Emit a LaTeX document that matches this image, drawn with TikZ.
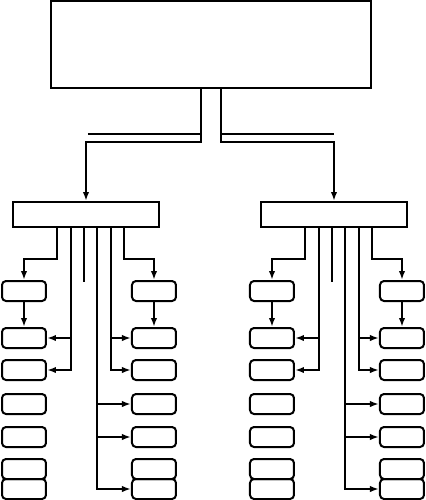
\documentclass[tikz,border=0pt]{standalone}
\usetikzlibrary{arrows.meta}
\tikzset{
    leaf/.style={draw,rounded corners=2pt,minimum width=22pt,minimum height=10pt,inner sep=0pt},
    unit/.style={draw,minimum width=73pt,minimum height=12.5pt,inner sep=0pt}
}
\newcommand\leaf[3]{\node(#1)[leaf] at (#2,#3){};}

\begin{document}
\begin{tikzpicture}[x=0.5pt,y=-0.5pt,line width=1pt,>={Latex[length=4.5pt,width=3.2pt]}]
    \useasboundingbox (0,0) rectangle (426,500);
    \node(top)[draw,minimum width=160pt,minimum height=43.5pt,inner sep=0pt] at (211,44.5){};
    \node(midA)[unit] at (86,214.5){};
    \node(midB)[unit] at (334,214.5){};
    % leaves, group a
    \leaf{al1}{24}{291} \leaf{al2}{24}{338} \leaf{al3}{24}{370} \leaf{al4}{24}{404}
    \leaf{al5}{24}{437} \leaf{al6}{24}{469} \leaf{al7}{24}{489}
    \leaf{ar1}{154}{291} \leaf{ar2}{154}{338} \leaf{ar3}{154}{370} \leaf{ar4}{154}{404}
    \leaf{ar5}{154}{437} \leaf{ar6}{154}{469} \leaf{ar7}{154}{489}
    % leaves, group b
    \leaf{bl1}{272}{291} \leaf{bl2}{272}{338} \leaf{bl3}{272}{370} \leaf{bl4}{272}{404}
    \leaf{bl5}{272}{437} \leaf{bl6}{272}{469} \leaf{bl7}{272}{489}
    \leaf{br1}{402}{291} \leaf{br2}{402}{338} \leaf{br3}{402}{370} \leaf{br4}{402}{404}
    \leaf{br5}{402}{437} \leaf{br6}{402}{469} \leaf{br7}{402}{489}

    % top split
    \coordinate (ja) at (201,142); \coordinate (jb) at (221,142);
    \coordinate (ua) at (88,134);  \coordinate (ub) at (334,134);
    \draw[->] (top.south -| ja) -- (ja) -| (midA);
    \draw (ua) -- (ua -| ja);
    \draw[->] (top.south -| jb) -- (jb) -| (midB);
    \draw (ub) -- (ub -| jb);

    % group a
    \coordinate (ka1) at (57,259); \coordinate (ka2) at (71,0); \coordinate (ka3) at (84,282);
    \coordinate (ka4) at (97,0); \coordinate (ka5) at (111,0); \coordinate (ka6) at (124,259);
    \draw[->] (midA.south -| ka1) -- (ka1) -| (al1);
    \draw[->] (al1) -- (al2);
    \draw[->] (midA.south -| ka2) |- (al3);
    \draw[->] (ka2 |- al2) -- (al2);
    \draw (midA.south -| ka3) -- (ka3);
    \draw[->] (midA.south -| ka4) |- (ar7);
    \draw[->] (ka4 |- ar4) -- (ar4);
    \draw[->] (ka4 |- ar5) -- (ar5);
    \draw[->] (midA.south -| ka5) |- (ar3);
    \draw[->] (ka5 |- ar2) -- (ar2);
    \draw[->] (midA.south -| ka6) -- (ka6) -| (ar1);
    \draw[->] (ar1) -- (ar2);

    % group b
    \coordinate (kb1) at (305,259); \coordinate (kb2) at (319,0); \coordinate (kb3) at (332,282);
    \coordinate (kb4) at (345,0); \coordinate (kb5) at (359,0); \coordinate (kb6) at (372,259);
    \draw[->] (midB.south -| kb1) -- (kb1) -| (bl1);
    \draw[->] (bl1) -- (bl2);
    \draw[->] (midB.south -| kb2) |- (bl3);
    \draw[->] (kb2 |- bl2) -- (bl2);
    \draw (midB.south -| kb3) -- (kb3);
    \draw[->] (midB.south -| kb4) |- (br7);
    \draw[->] (kb4 |- br4) -- (br4);
    \draw[->] (kb4 |- br5) -- (br5);
    \draw[->] (midB.south -| kb5) |- (br3);
    \draw[->] (kb5 |- br2) -- (br2);
    \draw[->] (midB.south -| kb6) -- (kb6) -| (br1);
    \draw[->] (br1) -- (br2);
\end{tikzpicture}
\end{document}
